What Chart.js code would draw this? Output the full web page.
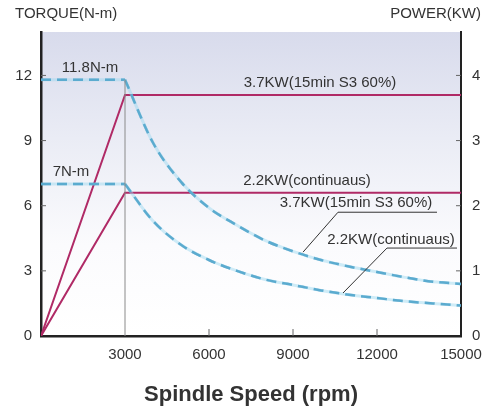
<!DOCTYPE html>
<html lang="en">
<head>
    <meta charset="UTF-8">
    <title>Spindle Torque / Power</title>
    <script src="https://cdn.jsdelivr.net/npm/chart.js"></script>
    <style>
        html, body { margin: 0; padding: 0; background: #ffffff; overflow: hidden; }
        .chart-container { width: 498px; height: 411px; }
        canvas { display: block; }
    </style>
</head>
<body>
    <div class="chart-container">
        <canvas id="motorChart" width="498" height="411"></canvas>
    </div>

    <script>
        // values
        const speedTicks = [0, 3000, 6000, 9000, 12000, 15000];
        const torqueTicks = [0, 3, 6, 9, 12];
        const powerTicks = [0, 1, 2, 3, 4];

        // constant torque zone (0 - 3000 rpm)
        const flatRpm = [0, 3000];
        const flatTorque37 = [11.8, 11.8];
        const flatTorque22 = [7, 7];

        // torque drop-off above base speed
        const curveRpm = [3000, 4000, 5000, 6000, 7000, 8000, 9000, 10000, 11000, 12000, 13000, 14000, 15000];
        const curveTorque37 = [11.8, 8.9, 7.1, 5.9, 5.1, 4.4, 3.9, 3.5, 3.2, 2.95, 2.7, 2.5, 2.4];
        const curveTorque22 = [7.0, 5.3, 4.2, 3.5, 3.0, 2.6, 2.35, 2.1, 1.9, 1.75, 1.6, 1.5, 1.4];

        // power (KW)
        const powerRpm = [0, 3000, 15000];
        const power37 = [0, 3.7, 3.7];
        const power22 = [0, 2.2, 2.2];

        const baseRpm = [3000, 3000];
        const baseTorque = [0, 11.8];

        const pts = (xs, ys) => xs.map((x, i) => ({ x: x, y: ys[i] }));

        const BLUE = '#2a87b5';
        const HALO = 'rgba(150,215,240,0.45)';
        const MAGENTA = '#b02a66';
        const FONT = '"Liberation Sans", Arial, sans-serif';

        // shaded plot background
        const backgroundPlugin = {
            id: 'plotBackground',
            beforeDraw(chart) {
                const { ctx, chartArea: a } = chart;
                const g = ctx.createLinearGradient(0, a.top, 0, a.bottom);
                g.addColorStop(0, '#d8dbec');
                g.addColorStop(0.35, '#eaecf5');
                g.addColorStop(0.7, '#fbfbfd');
                g.addColorStop(1, '#ffffff');
                ctx.save();
                ctx.fillStyle = g;
                ctx.fillRect(a.left, a.top, a.right - a.left, a.bottom - a.top);
                ctx.restore();
            }
        };

        // inward tick marks, texts and leader lines
        const decorPlugin = {
            id: 'decor',
            afterDraw(chart) {
                const { ctx, chartArea: a, scales } = chart;
                const x = scales.x, y = scales.y, y2 = scales.y2;
                ctx.save();
                ctx.strokeStyle = '#666';
                ctx.lineWidth = 1;
                ctx.beginPath();
                torqueTicks.slice(1).forEach(v => {
                    const py = y.getPixelForValue(v);
                    ctx.moveTo(a.left, py); ctx.lineTo(a.left + 5, py);
                });
                powerTicks.slice(1).forEach(v => {
                    const py = y2.getPixelForValue(v);
                    ctx.moveTo(a.right - 5, py); ctx.lineTo(a.right, py);
                });
                speedTicks.slice(2, -1).forEach(v => {
                    const px = x.getPixelForValue(v);
                    ctx.moveTo(px, a.bottom); ctx.lineTo(px, a.bottom - 7);
                });
                ctx.stroke();

                ctx.fillStyle = '#333';
                ctx.font = '15px ' + FONT;
                ctx.textBaseline = 'middle';
                ctx.textAlign = 'left';
                ctx.fillText('TORQUE(N-m)', 15, 14);
                ctx.textAlign = 'right';
                ctx.fillText('POWER(KW)', 481, 14);

                const label = (t, rx, ty) => {
                    ctx.textAlign = 'center';
                    ctx.fillText(t, x.getPixelForValue(rx), y.getPixelForValue(ty));
                };
                label('11.8N-m', 1750, 12.37);
                label('7N-m', 1070, 7.54);
                label('3.7KW(15min S3 60%)', 9964, 11.68);
                label('2.2KW(continuaus)', 9500, 7.13);
                label('3.7KW(15min S3 60%)', 11250, 6.11);
                label('2.2KW(continuaus)', 12500, 4.41);

                // underline + leader lines to the curves
                const seg = (pairs) => {
                    ctx.beginPath();
                    pairs.forEach((p, i) => {
                        const px = x.getPixelForValue(p[0]), py = y.getPixelForValue(p[1]);
                        if (i === 0) ctx.moveTo(px, py); else ctx.lineTo(px, py);
                    });
                    ctx.stroke();
                };
                ctx.strokeStyle = '#333';
                seg([[14143, 5.70], [10607, 5.70], [9357, 3.86]]);
                seg([[14857, 4.05], [12357, 4.05], [10786, 1.98]]);

                ctx.font = 'bold 22px ' + FONT;
                ctx.textAlign = 'center';
                ctx.fillStyle = '#333';
                ctx.fillText('Spindle Speed (rpm)', (a.left + a.right) / 2, 395);
                ctx.restore();
            }
        };

        const ctx = document.getElementById('motorChart').getContext('2d');
        const motorChart = new Chart(ctx, {
            type: 'line',
            data: {
                datasets: [
                    { data: pts(baseRpm, baseTorque), borderColor: '#8a8a8a', borderWidth: 1, yAxisID: 'y' },
                    { data: pts(flatRpm, flatTorque37), borderColor: HALO, borderWidth: 3, yAxisID: 'y' },
                    { data: pts(flatRpm, flatTorque22), borderColor: HALO, borderWidth: 3, yAxisID: 'y' },
                    { data: pts(curveRpm, curveTorque37), borderColor: HALO, borderWidth: 3, cubicInterpolationMode: 'monotone', yAxisID: 'y' },
                    { data: pts(curveRpm, curveTorque22), borderColor: HALO, borderWidth: 3, cubicInterpolationMode: 'monotone', yAxisID: 'y' },
                    { data: pts(flatRpm, flatTorque37), borderColor: BLUE, borderWidth: 2.5, borderDash: [10, 6], yAxisID: 'y' },
                    { data: pts(flatRpm, flatTorque22), borderColor: BLUE, borderWidth: 2.5, borderDash: [10, 6], yAxisID: 'y' },
                    { data: pts(curveRpm, curveTorque37), borderColor: BLUE, borderWidth: 2.5, borderDash: [10, 6], cubicInterpolationMode: 'monotone', yAxisID: 'y' },
                    { data: pts(curveRpm, curveTorque22), borderColor: BLUE, borderWidth: 2.5, borderDash: [10, 6], cubicInterpolationMode: 'monotone', yAxisID: 'y' },
                    { data: pts(powerRpm, power37), borderColor: MAGENTA, borderWidth: 2, yAxisID: 'y2' },
                    { data: pts(powerRpm, power22), borderColor: MAGENTA, borderWidth: 2, yAxisID: 'y2' }
                ]
            },
            options: {
                responsive: false,
                animation: false,
                devicePixelRatio: 1,
                layout: { padding: { top: 32, left: 0, right: 0, bottom: 0 } },
                elements: { point: { radius: 0 }, line: { fill: false } },
                plugins: { legend: { display: false }, tooltip: { enabled: false } },
                scales: {
                    x: {
                        type: 'linear',
                        min: 0,
                        max: 15000,
                        afterBuildTicks: s => { s.ticks = speedTicks.map(v => ({ value: v })); },
                        afterFit: s => { s.height = 75; },
                        grid: { display: false, drawTicks: false },
                        border: { color: '#222', width: 2.5 },
                        ticks: {
                            padding: 10,
                            color: '#333',
                            maxRotation: 0,
                            minRotation: 0,
                            autoSkip: false,
                            font: { family: FONT, size: 15 },
                            callback: v => (v === 0 ? '' : v)
                        }
                    },
                    y: {
                        position: 'left',
                        min: 0,
                        max: 14,
                        afterBuildTicks: s => { s.ticks = torqueTicks.map(v => ({ value: v })); },
                        afterFit: s => { s.width = 41; },
                        grid: { display: false, drawTicks: false },
                        border: { color: '#222', width: 2.5 },
                        ticks: { padding: 9, color: '#333', font: { family: FONT, size: 15 } }
                    },
                    y2: {
                        position: 'right',
                        min: 0,
                        max: 14 / 3,
                        afterBuildTicks: s => { s.ticks = powerTicks.map(v => ({ value: v })); },
                        afterFit: s => { s.width = 37; },
                        grid: { display: false, drawTicks: false },
                        border: { color: '#222', width: 2 },
                        ticks: { padding: 11, color: '#333', font: { family: FONT, size: 15 } }
                    }
                }
            },
            plugins: [backgroundPlugin, decorPlugin]
        });
    </script>
</body>
</html>
